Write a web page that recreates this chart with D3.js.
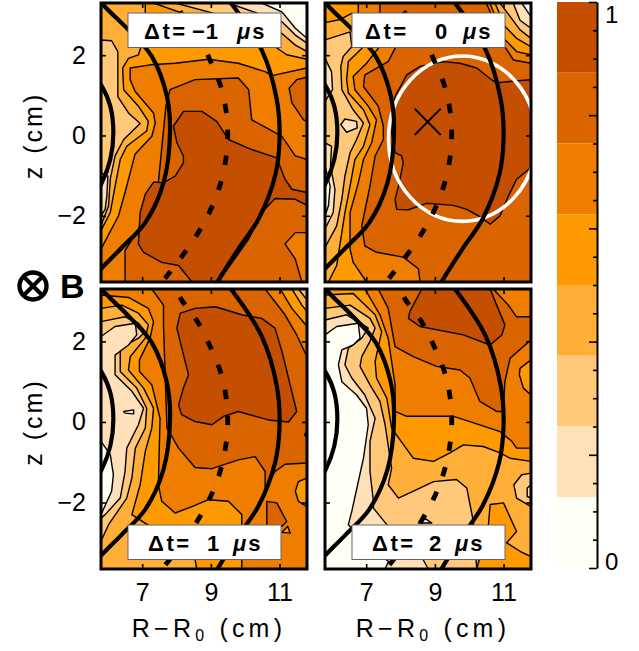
<!DOCTYPE html>
<html>
<head>
<meta charset="utf-8">
<title>Contours</title>
<style>
body { margin: 0; background: #fff; }
text { font-family: "Liberation Sans", Arial, sans-serif; fill: #000; }
</style>
</head>
<body>
<svg></svg>
<script src="https://d3js.org/d3.v7.min.js"></script>
<script>
// band 0 = top of the colour bar (1), band 7 = bottom (0)
var bandColors = ['#c44f00', '#da6400', '#ee7d00', '#ff9900', '#ffae38', '#ffc87a', '#ffe0b8', '#fffff5'];
var colorTicks = d3.range(0, 1.0001, 0.05);
var rTicks = [7, 9, 11];
var zTicks = [-2, 0, 2];
var labels = ['−1', '0', '1', '2'];

// contour regions in (R-R0, z) cm, painted in order: [band, outline]
var regionsA = [
  [4, [[5.8, 3.3], [11.8, 3.3], [11.8, -3.65], [5.8, -3.65]]],
  [5, [[5.80, 2.38], [6.11, 2.36], [6.29, 2.09], [6.29, 0.97], [6.60, 0.56], [6.94, 0.30], [6.46, -0.10], [6.21, -0.51], [6.07, -1.09], [6.02, -1.75], [5.80, -2.25]]],
  [6, [[5.80, -0.93], [6.0, -1.01], [5.97, -1.51], [5.92, -1.84], [5.80, -2.0]]],
  [3, [[5.80, -2.37], [6.07, -1.92], [6.21, -1.26], [6.36, -0.60], [6.55, -0.27], [7.13, 0.11], [7.18, 0.35], [6.89, 0.73], [6.46, 1.14], [6.43, 1.68], [6.60, 1.92], [6.89, 2.01], [7.09, 2.54], [7.09, 3.3], [7.33, 3.3], [8.06, 3.08], [10.87, 2.21], [11.21, 2.01], [11.8, 1.90], [11.8, -3.65], [5.8, -3.65]]],
  [2, [[5.80, -2.83], [6.31, -2.0], [6.50, -1.42], [6.79, -0.47], [7.28, -0.02], [7.38, 0.31], [7.33, 0.56], [6.79, 1.10], [6.65, 1.39], [6.65, 1.68], [7.23, 1.76], [7.96, 1.80], [8.93, 1.90], [9.80, 1.80], [10.58, 1.59], [10.78, 1.49], [11.8, 1.68], [11.8, -3.65], [5.8, -3.65]]],
  [1, [[6.50, -3.65], [6.50, -2.87], [6.89, -2.33], [7.47, -1.18], [7.69, 0.73], [7.81, 1.14], [8.54, 1.39], [9.80, 1.43], [10.10, 1.14], [10.19, 0.39], [11.07, -0.02], [11.46, -0.51], [11.8, -0.60], [11.8, -3.65]]],
  [1, [[11.8, 1.45], [11.50, 1.39], [11.28, 1.18], [11.36, 0.81], [11.70, 0.39], [11.8, 0.35]]],
  [2, [[11.8, -2.42], [11.46, -2.42], [11.16, -2.70], [11.46, -3.08], [11.65, -3.65], [11.8, -3.65]]],
  [0, [[8.20, 0.60], [8.74, 0.60], [9.17, 0.35], [9.51, -0.10], [10.19, -0.35], [10.92, -0.56], [11.16, -1.09], [11.36, -1.34], [11.8, -1.42], [11.8, -1.74], [11.46, -1.59], [10.87, -1.57], [10.48, -1.92], [10.10, -2.58], [9.22, -3.65], [8.45, -3.65], [8.06, -3.24], [7.57, -3.16], [7.04, -2.91], [6.89, -2.70], [6.94, -1.92], [7.09, -1.46], [7.33, -1.16], [7.62, -1.18], [7.96, -1.01], [8.20, -0.68], [8.20, -0.51], [8.01, -0.18], [7.91, 0.23]]],
  [5, [[7.96, 3.3], [8.93, 3.08], [11.07, 2.54], [11.46, 2.25], [11.8, 2.09], [11.8, 3.3]]],
  [6, [[9.51, 3.3], [11.07, 2.83], [11.46, 2.50], [11.8, 2.30], [11.8, 3.3]]],
  [7, [[10.48, 3.3], [11.07, 3.08], [11.46, 2.67], [11.8, 2.42], [11.8, 3.3]]]
];

var regionsB = [
  [5, [[5.8, 3.3], [11.8, 3.3], [11.8, -3.65], [5.8, -3.65]]],
  [6, [[6.26, 0.27], [6.38, 0.41], [6.72, 0.35], [6.74, 0.19], [6.43, 0.08]]],
  [6, [[5.8, 1.92], [5.99, 1.59], [6.02, 1.14], [5.8, 0.85]]],
  [6, [[5.8, -0.18], [5.99, -0.27], [5.96, -0.76], [6.09, -1.34], [6.04, -1.92], [5.8, -2.33]]],
  [7, [[5.8, -0.76], [5.95, -1.26], [5.90, -1.75], [5.8, -2.0]]],
  [4, [[5.8, -2.79], [6.14, -2.25], [6.29, -1.59], [6.38, -1.01], [6.53, -0.43], [6.72, -0.10], [6.92, 0.31], [6.62, 0.64], [6.29, 1.14], [6.26, 1.72], [6.33, 1.97], [6.58, 2.21], [6.53, 2.58], [5.8, 2.38], [5.8, 3.3], [11.8, 3.3], [11.8, -3.65], [5.8, -3.65]]],
  [3, [[5.90, -3.65], [6.14, -3.24], [6.38, -1.92], [6.53, -1.26], [6.67, -0.60], [6.92, -0.27], [7.11, 0.27], [6.92, 0.64], [6.48, 1.06], [6.43, 1.39], [6.48, 1.84], [6.92, 2.21], [6.92, 2.96], [6.58, 3.04], [6.24, 2.89], [5.8, 2.81], [5.8, 3.3], [11.8, 3.3], [11.8, -3.65]]],
  [2, [[7.01, -3.65], [6.62, -3.16], [6.53, -2.83], [6.53, -1.92], [6.77, -1.18], [6.92, -0.60], [7.16, -0.18], [7.30, 0.39], [7.06, 0.73], [6.67, 1.14], [6.62, 1.47], [7.01, 1.80], [7.35, 2.17], [6.77, 3.04], [6.77, 3.3], [11.8, 3.3], [11.8, -3.65]]],
  [1, [[8.57, -3.65], [8.52, -3.32], [8.08, -3.03], [7.30, -2.91], [6.96, -2.75], [6.87, -2.25], [7.11, -1.26], [7.26, -0.51], [7.50, -0.10], [7.50, 0.23], [7.35, 0.73], [6.92, 1.22], [6.96, 1.51], [7.64, 1.84], [7.84, 2.17], [7.40, 3.04], [7.40, 3.3], [10.5, 3.3], [11.04, 2.21], [11.29, 1.88], [11.8, 1.80], [11.8, -3.65]]],
  [3, [[10.6, 3.3], [11.05, 2.38], [11.38, 2.09], [11.8, 2.01], [11.8, 3.3]]],
  [4, [[10.75, 3.3], [11.05, 2.71], [11.38, 2.42], [11.8, 2.21], [11.8, 3.3]]],
  [5, [[10.90, 3.3], [11.09, 3.08], [11.48, 2.63], [11.8, 2.42], [11.8, 3.3]]],
  [6, [[11.28, 3.3], [11.48, 2.87], [11.8, 2.67], [11.8, 3.3]]],
  [7, [[11.53, 3.3], [11.8, 2.96], [11.8, 3.3]]],
  [0, [[11.8, 1.39], [11.24, 1.35], [10.8, 1.31], [10.65, 1.39], [10.22, 1.68], [9.73, 1.80], [9.25, 1.84], [8.57, 1.72], [8.18, 1.51], [7.84, 0.97], [7.74, 0.06], [7.84, -0.43], [8.03, -0.51], [8.08, -0.68], [7.94, -1.26], [7.84, -1.59], [7.89, -1.84], [8.23, -1.85], [8.76, -1.69], [9.54, -1.74], [9.93, -1.84], [10.27, -2.0], [10.61, -2.21], [10.90, -2.0], [11.14, -1.51], [11.38, -1.09], [11.8, -0.80]]]
];

var regionsC = [
  [4, [[5.8, 3.3], [11.8, 3.3], [11.8, -3.65], [5.8, -3.65]]],
  [5, [[5.8, 2.49], [6.50, 2.61], [6.89, 2.45], [7.09, 2.24], [6.89, 2.08], [6.36, 1.83], [6.36, 1.25], [6.84, 0.84], [7.13, 0.34], [7.09, -0.15], [6.80, -0.65], [6.70, -1.39], [6.55, -1.89], [6.02, -2.55], [5.8, -2.96]]],
  [6, [[5.8, 2.12], [6.21, 2.37], [6.80, 2.45], [6.84, 2.16], [6.60, 1.91], [6.21, 1.66], [6.21, 1.17], [6.70, 0.76], [7.04, 0.34], [6.89, -0.07], [6.55, -0.65], [6.50, -1.23], [6.36, -1.89], [5.92, -2.30], [5.8, -2.39]]],
  [7, [[5.8, -0.48], [6.07, -0.81], [6.16, -1.31], [6.11, -1.72], [5.8, -2.30]]],
  [7, [[6.46, 0.26], [6.75, 0.30], [6.75, 0.20], [6.50, 0.22]]],
  [3, [[5.8, 2.82], [6.41, 2.90], [6.89, 2.70], [7.18, 2.41], [7.09, 2.08], [6.65, 1.62], [6.60, 1.29], [7.04, 0.84], [7.33, 0.34], [7.28, -0.15], [7.09, -0.73], [6.94, -1.56], [6.70, -2.30], [8.06, -3.05], [8.54, -3.42], [8.59, -3.65], [11.8, -3.65], [11.8, 3.3], [5.8, 3.3]]],
  [2, [[5.8, 3.15], [6.60, 3.09], [7.18, 2.82], [7.33, 2.49], [7.23, 2.08], [6.92, 1.54], [6.92, 1.25], [7.28, 0.92], [7.52, 0.09], [7.47, -1.56], [7.57, -1.97], [7.96, -2.26], [8.45, -2.10], [8.93, -1.93], [9.51, -1.97], [9.90, -2.30], [9.90, -2.55], [9.9, -3.65], [11.8, -3.65], [11.8, 3.3], [5.8, 3.3]]],
  [1, [[7.28, 3.3], [7.62, 2.90], [7.62, 2.41], [7.72, -0.15], [8.06, -0.65], [8.54, -1.13], [9.03, -1.16], [9.80, -0.94], [10.29, -0.86], [10.58, -1.23], [10.58, -1.64], [10.87, -1.23], [11.16, -1.05], [11.8, -1.02], [11.8, 1.62], [11.50, 2.16], [11.16, 2.66], [10.58, 3.3]]],
  [0, [[8.11, 2.70], [8.54, 2.82], [9.13, 2.86], [9.90, 2.66], [10.48, 2.57], [10.87, 2.33], [11.07, 1.75], [11.31, 0.92], [11.50, 0.26], [11.26, 0.0], [10.68, 0.05], [9.80, 0.26], [9.37, 0.14], [9.03, -0.07], [8.54, 0.01], [8.15, 0.18], [8.06, 0.42], [8.20, 0.84], [8.35, 1.17], [8.25, 1.50], [8.01, 2.33]]],
  [1, [[11.8, -0.20], [11.73, -0.32], [11.8, -0.40]]],
  [1, [[10.63, -1.97], [10.92, -2.01], [11.21, -2.47], [11.07, -2.59], [10.63, -2.59]]],
  [3, [[11.07, -2.74], [11.24, -2.59], [11.31, -2.76]]],
  [3, [[11.8, -1.39], [11.55, -1.48], [11.46, -1.72], [11.55, -1.97], [11.8, -2.10]]],
  [3, [[11.02, 3.3], [11.36, 2.82], [11.8, 2.37], [11.8, 3.3]]],
  [4, [[11.36, 3.3], [11.65, 2.90], [11.8, 2.74], [11.8, 3.3]]],
  [5, [[11.55, 3.3], [11.8, 3.03], [11.8, 3.3]]]
];

var regionsD = [
  [4, [[5.8, 3.3], [11.8, 3.3], [11.8, -3.65], [5.8, -3.65]]],
  [5, [[5.8, 2.82], [6.53, 2.90], [7.11, 2.57], [7.26, 2.33], [7.11, 2.0], [6.87, 1.62], [6.82, 1.38], [7.11, 0.92], [7.40, 0.51], [7.55, -0.07], [7.74, -1.15], [7.64, -1.56], [7.94, -1.89], [8.47, -1.68], [8.96, -1.48], [9.63, -1.43], [9.93, -1.64], [10.12, -2.47], [10.22, -3.65], [5.8, -3.65]]],
  [6, [[5.8, 2.53], [6.43, 2.66], [6.92, 2.41], [7.06, 2.33], [6.87, 2.08], [6.48, 1.83], [6.38, 1.42], [6.58, 1.09], [6.96, 0.67], [7.26, 0.09], [7.11, -0.48], [7.11, -1.23], [7.21, -1.97], [7.21, -2.14], [7.60, -2.55], [8.08, -3.05], [8.66, -3.42], [8.81, -3.65], [5.8, -3.65]]],
  [7, [[5.8, 2.16], [6.14, 2.37], [6.77, 2.45], [6.82, 2.08], [6.62, 1.91], [6.29, 1.79], [6.19, 1.42], [6.29, 1.0], [6.72, 0.67], [7.01, 0.34], [7.06, -0.07], [6.92, -0.90], [6.58, -2.22], [6.48, -2.55], [7.11, -3.13], [7.65, -3.46], [7.55, -3.65], [5.8, -3.65]]],
  [6, [[8.52, -2.51], [8.71, -2.39], [8.91, -2.51]]],
  [3, [[5.8, 3.15], [6.62, 3.19], [7.26, 2.66], [7.45, 2.24], [7.26, 1.50], [7.30, 1.09], [7.60, 0.59], [7.74, -0.15], [7.98, -0.44], [8.37, -0.90], [8.96, -0.98], [9.44, -0.77], [9.83, -0.57], [10.41, -0.61], [10.90, -0.77], [11.19, -0.90], [11.8, -0.98], [11.8, 3.3], [5.8, 3.3]]],
  [2, [[6.96, 3.3], [7.40, 2.66], [7.64, 2.08], [7.84, 0.92], [7.84, 0.26], [8.18, 0.14], [8.76, 0.14], [9.54, 0.14], [10.02, 0.01], [10.90, -0.24], [11.24, -0.48], [11.38, -0.65], [11.8, -0.65], [11.8, 3.3]]],
  [1, [[7.35, 3.3], [7.64, 2.82], [7.84, 1.87], [8.37, 1.62], [9.05, 1.38], [9.73, 1.29], [10.02, 1.09], [10.31, 0.51], [10.80, 0.26], [10.99, 0.26], [11.04, 1.0], [11.19, 1.58], [11.8, 2.04], [11.8, 2.61], [11.38, 2.61], [11.14, 2.90], [10.70, 3.3]]],
  [0, [[8.62, 3.3], [8.27, 2.74], [8.23, 2.57], [8.57, 2.37], [9.83, 2.16], [10.61, 1.91], [10.95, 2.16], [11.04, 2.41], [10.80, 2.90], [10.61, 3.3]]],
  [3, [[11.8, 1.54], [11.48, 1.33], [11.46, 1.17], [11.58, 0.84], [11.8, 0.67]]],
  [5, [[11.8, -1.27], [11.53, -1.31], [11.30, -1.56], [11.38, -1.89], [11.8, -2.10]]],
  [6, [[11.8, -1.56], [11.69, -1.64], [11.69, -1.85], [11.8, -1.89]]],
  [3, [[10.61, -2.05], [11.0, -2.01], [11.38, -2.72], [11.09, -3.0], [11.48, -3.21], [11.8, -3.34], [11.8, -3.65], [10.22, -3.65], [10.56, -2.55]]]
];

// flux surfaces, same in all four panels
var innerArc = [[5.68, 1.39], [5.80, 1.26], [6.07, 0.73], [6.16, 0.06], [6.07, -0.60], [5.80, -1.22], [5.68, -1.38]];
var middleArc = [[5.63, 3.49], [5.92, 3.20], [6.60, 2.63], [7.28, 1.97], [7.72, 0.97], [7.81, 0.06], [7.62, -1.18], [7.09, -2.17], [6.41, -2.79], [5.80, -3.32], [5.63, -3.49]];
var outerArc = [[9.51, 3.37], [9.61, 3.27], [10.48, 2.13], [10.92, 0.89], [11.0, -0.1], [10.87, -1.01], [10.39, -2.08], [9.80, -2.83], [9.22, -3.61], [9.08, -3.82]];
var dashedArc = [[8.10, 3.10], [8.17, 3.0], [8.64, 2.45], [8.98, 1.87], [9.27, 1.27], [9.44, 0.63], [9.49, -0.03], [9.42, -0.67], [9.24, -1.31], [8.96, -1.91], [8.61, -2.45], [8.15, -3.02], [7.69, -3.53], [7.4, -3.8]];

var circleCenter = [9.80, -0.08], circleR = 2.15, circleZ = 2.06;
var crossCenter = [8.79, 0.34], crossR = 0.38, crossZ = 0.33;

var width = 639, height = 651;
var svg = d3.select('svg').attr('width', width).attr('height', height).style('display', 'block');

var panels = [
  { regions: regionsA, left: 101, top: 3, bottom: 282, label: labels[0], labelTop: 13, labelX: [43, 91, 136], yAxis: true, xAxis: false },
  { regions: regionsB, left: 325, top: 3, bottom: 282, label: labels[1], labelTop: 13, labelX: [40, 110, 138], yAxis: false, xAxis: false, circle: true },
  { regions: regionsC, left: 101, top: 289, bottom: 569, label: labels[2], labelTop: 525, labelX: [47, 106, 132], yAxis: true, xAxis: true },
  { regions: regionsD, left: 325, top: 289, bottom: 569, label: labels[3], labelTop: 525, labelX: [47, 104, 130], yAxis: false, xAxis: true }
];

function styleAxis(sel) {
  sel.select('.domain').remove();
  sel.selectAll('.tick line').attr('stroke', '#000').attr('stroke-width', 1.6);
  sel.selectAll('.tick text').attr('font-size', 25).attr('font-family', '"Liberation Sans", Arial, sans-serif').attr('fill', '#000');
}

panels.forEach(function (p, i) {
  var x = d3.scaleLinear().domain([5.8, 11.8]).range([p.left, p.left + 206]);
  var y = d3.scaleLinear().domain([3.3, -3.65]).range([p.top, p.bottom]);
  var outline = d3.line().x(d => x(d[0])).y(d => y(d[1])).curve(d3.curveLinearClosed);
  var smooth = d3.line().x(d => x(d[0])).y(d => y(d[1])).curve(d3.curveCatmullRom);

  svg.append('clipPath').attr('id', 'clip' + i).append('rect')
    .attr('x', p.left).attr('y', p.top).attr('width', 206).attr('height', p.bottom - p.top);

  var g = svg.append('g').attr('clip-path', `url(#clip${i})`);

  g.selectAll('path.region').data(p.regions).join('path')
    .attr('class', 'region')
    .attr('d', d => outline(d[1]))
    .attr('fill', d => bandColors[d[0]])
    .attr('stroke', '#000')
    .attr('stroke-width', 1.4)
    .attr('stroke-linejoin', 'round');

  if (p.circle) {
    g.append('ellipse')
      .attr('cx', x(circleCenter[0])).attr('cy', y(circleCenter[1]))
      .attr('rx', x(circleR) - x(0)).attr('ry', y(0) - y(circleZ))
      .attr('fill', 'none').attr('stroke', '#fff').attr('stroke-width', 3.6);
    g.append('path')
      .attr('d', `M${x(crossCenter[0] - crossR)},${y(crossCenter[1] + crossZ)}L${x(crossCenter[0] + crossR)},${y(crossCenter[1] - crossZ)}` +
        `M${x(crossCenter[0] - crossR)},${y(crossCenter[1] - crossZ)}L${x(crossCenter[0] + crossR)},${y(crossCenter[1] + crossZ)}`)
      .attr('stroke', '#000').attr('stroke-width', 2).attr('fill', 'none');
  }

  [innerArc, middleArc, outerArc].forEach(function (arc) {
    g.append('path').attr('d', smooth(arc))
      .attr('fill', 'none').attr('stroke', '#000').attr('stroke-width', 4.2);
  });
  g.append('path').attr('d', smooth(dashedArc))
    .attr('fill', 'none').attr('stroke', '#000').attr('stroke-width', 4.8)
    .attr('stroke-dasharray', '9.5 16.5');

  // axes, ticks point inward on all sides
  svg.append('g').attr('transform', `translate(0,${p.bottom})`)
    .call(d3.axisBottom(x).tickValues(rTicks).tickSize(-5).tickFormat(p.xAxis ? d3.format('d') : ''))
    .call(styleAxis)
    .call(s => s.selectAll('.tick text').attr('y', 32).attr('dy', 0));
  svg.append('g').attr('transform', `translate(0,${p.top})`)
    .call(d3.axisTop(x).tickValues(rTicks).tickSize(-5).tickFormat(''))
    .call(styleAxis);
  svg.append('g').attr('transform', `translate(${p.left},0)`)
    .call(d3.axisLeft(y).tickValues(zTicks).tickSize(-5).tickFormat(p.yAxis ? (d => String(d).replace('-', '−')) : ''))
    .call(styleAxis)
    .call(s => s.selectAll('.tick text').attr('x', -15));
  svg.append('g').attr('transform', `translate(${p.left + 206},0)`)
    .call(d3.axisRight(y).tickValues(zTicks).tickSize(-5).tickFormat(''))
    .call(styleAxis);

  svg.append('rect').attr('x', p.left).attr('y', p.top)
    .attr('width', 206).attr('height', p.bottom - p.top)
    .attr('fill', 'none').attr('stroke', '#000').attr('stroke-width', 3);

  // time label box
  var lx = p.left + 27;
  svg.append('rect').attr('x', lx).attr('y', p.labelTop).attr('width', 153).attr('height', 34.5)
    .attr('fill', '#fff').attr('stroke', '#666').attr('stroke-width', 1);
  var t = svg.append('g').attr('font-size', 22).attr('font-weight', 'bold');
  var base = p.labelTop + 26;
  t.append('text').attr('x', p.left + p.labelX[0]).attr('y', base).attr('letter-spacing', 2.6).text('Δt=');
  t.append('text').attr('x', p.left + p.labelX[1]).attr('y', base).attr('letter-spacing', 1).text(p.label);
  var mu = t.append('text').attr('x', p.left + p.labelX[2]).attr('y', base).attr('letter-spacing', 2);
  mu.append('tspan').attr('font-style', 'italic').text('μ');
  mu.append('tspan').text('s');

  if (p.yAxis) {
    svg.append('text').attr('transform', `translate(42,${y(0)}) rotate(-90)`)
      .attr('text-anchor', 'middle').attr('font-size', 25).attr('letter-spacing', 3).attr('xml:space', 'preserve')
      .text('z (cm)');
  }
  if (p.xAxis) {
    var xl = svg.append('text').attr('x', p.left + 108).attr('y', 637)
      .attr('text-anchor', 'middle').attr('font-size', 25).attr('letter-spacing', 4.2).attr('xml:space', 'preserve');
    xl.append('tspan').text('R−R');
    xl.append('tspan').attr('font-size', 16).attr('dy', 4).text('0');
    xl.append('tspan').attr('dy', -4).text(' (cm)');
  }
});

// colour bar
var cx0 = 557, cx1 = 597;
var cScale = d3.scaleLinear().domain([0, 1]).range([568, 2]);
var bands = bandColors.map((c, i) => ({ color: c, hi: 1 - i / 8, lo: 1 - (i + 1) / 8 }));
svg.selectAll('rect.band').data(bands).join('rect')
  .attr('class', 'band')
  .attr('x', cx0).attr('width', cx1 - cx0)
  .attr('y', d => cScale(d.hi)).attr('height', d => cScale(d.lo) - cScale(d.hi))
  .attr('fill', d => d.color);
var cAxis = svg.append('g').attr('transform', `translate(${cx1},0)`)
  .call(d3.axisRight(cScale).tickValues(colorTicks).tickSize(0).tickFormat(''));
cAxis.select('.domain').attr('stroke', '#000').attr('stroke-width', 2);
cAxis.selectAll('.tick line')
  .attr('x2', (d, i) => i % 4 === 0 ? -8 : -4)
  .attr('stroke', '#000').attr('stroke-width', 1.6);
svg.selectAll('text.cb').data([1, 0]).join('text')
  .attr('class', 'cb')
  .attr('x', 605)
  .attr('y', d => d === 1 ? 23 : 570)
  .attr('font-size', 24)
  .text(d => d);

// field direction marker
svg.append('circle').attr('cx', 33).attr('cy', 286).attr('r', 13.5)
  .attr('fill', 'none').attr('stroke', '#000').attr('stroke-width', 4.4);
var bMark = d3.scaleLinear().domain([-1, 1]).range([-9.5, 9.5]);
svg.append('path')
  .attr('transform', 'translate(33,286)')
  .attr('d', `M${bMark(-1)},${bMark(-1)}L${bMark(1)},${bMark(1)}M${bMark(-1)},${bMark(1)}L${bMark(1)},${bMark(-1)}`)
  .attr('stroke', '#000').attr('stroke-width', 4).attr('fill', 'none');
svg.append('text').attr('x', 60).attr('y', 298).attr('font-size', 34).attr('font-weight', 'bold').text('B');
</script>
</body>
</html>
